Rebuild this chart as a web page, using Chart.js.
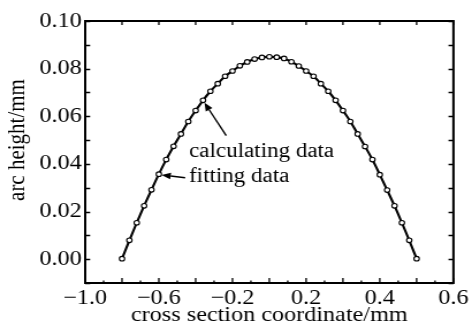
<!DOCTYPE html>
<html>
<head>
<meta charset="utf-8">
<script src="https://cdn.jsdelivr.net/npm/chart.js@4/dist/chart.umd.min.js"></script>
<style>
  html, body { margin: 0; padding: 0; background: #fff; overflow: hidden; }
  /* the original figure is stretched horizontally, so draw narrow and stretch */
  #wrap { width: 410px; height: 329px; transform: scaleX(1.1512); transform-origin: 0 0; }
</style>
</head>
<body>
<div id="wrap"><canvas id="arcChart"></canvas></div>
<script>
// cross section coordinate (mm)
const crossCoords = [
  -0.80, -0.76, -0.72, -0.68, -0.64, -0.60, -0.56, -0.52, -0.48, -0.44,
  -0.40, -0.36, -0.32, -0.28, -0.24, -0.20, -0.16, -0.12, -0.08, -0.04,
   0.00,  0.04,  0.08,  0.12,  0.16,  0.20,  0.24,  0.28,  0.32,  0.36,
   0.40,  0.44,  0.48,  0.52,  0.56,  0.60,  0.64,  0.68,  0.72,  0.76,
   0.80
];
// arc height (mm)
const arcHeights = [
  0.0002, 0.0079, 0.0153, 0.0224, 0.0291, 0.0357, 0.0418, 0.0474, 0.0526, 0.0578,
  0.0624, 0.0667, 0.0705, 0.0737, 0.0768, 0.0790, 0.0812, 0.0828, 0.0840, 0.0847,
  0.0850, 0.0848, 0.0843, 0.0829, 0.0811, 0.0790, 0.0768, 0.0737, 0.0705, 0.0667,
  0.0624, 0.0578, 0.0526, 0.0473, 0.0418, 0.0355, 0.0290, 0.0224, 0.0153, 0.0079,
  0.0002
];
// tick labels as printed on the original figure
const xTickLabels = ['\u22121.0', '\u22120.6', '\u22120.2', '0.2', '0.4', '0.6'];
const yTickValues = [0.00, 0.02, 0.04, 0.06, 0.08, 0.10];

const FONT = '"Liberation Serif", "Times New Roman", serif';

const points = crossCoords.map((x, i) => ({ x: x, y: arcHeights[i] }));

// frame + inward ticks like the original plot
const frameTicks = {
  id: 'frameTicks',
  afterDraw(chart) {
    const ctx = chart.ctx;
    const a = chart.chartArea;
    const xs = chart.scales.x, ys = chart.scales.y;
    ctx.save();
    ctx.strokeStyle = '#000';
    ctx.lineWidth = 1.3;
    ctx.beginPath();
    for (let i = 0; i <= 20; i++) {
      const px = xs.getPixelForValue(-1 + i * 0.1);
      const major = i % 2 === 0;
      const len = major ? 5 : 2.5;
      ctx.moveTo(px, a.bottom);
      ctx.lineTo(px, a.bottom - len);
      if (major) {
        ctx.moveTo(px, a.top);
        ctx.lineTo(px, a.top + 4);
      }
    }
    for (let j = 0; j <= 11; j++) {
      const py = Math.round(ys.getPixelForValue(-0.01 + j * 0.01)) + 0.5;
      ctx.moveTo(a.left, py);
      ctx.lineTo(a.left + 4.3, py);
      ctx.moveTo(a.right, py);
      ctx.lineTo(a.right - 4.3, py);
    }
    ctx.stroke();
    ctx.lineWidth = 2;
    ctx.strokeRect(a.left, a.top, a.right - a.left, a.bottom - a.top);
    ctx.restore();
  }
};

function arrow(ctx, x0, y0, x1, y1) {
  const ang = Math.atan2(y1 - y0, x1 - x0);
  const hl = 8, hw = 3.3;
  const bx = x1 - hl * Math.cos(ang), by = y1 - hl * Math.sin(ang);
  ctx.beginPath();
  ctx.moveTo(x0, y0);
  ctx.lineTo(bx, by);
  ctx.stroke();
  ctx.beginPath();
  ctx.moveTo(x1, y1);
  ctx.lineTo(bx + hw * Math.sin(ang), by - hw * Math.cos(ang));
  ctx.lineTo(bx - hw * Math.sin(ang), by + hw * Math.cos(ang));
  ctx.closePath();
  ctx.fill();
}

// the two callouts and the y title
const callouts = {
  id: 'callouts',
  afterDatasetsDraw(chart) {
    const ctx = chart.ctx;
    const xs = chart.scales.x, ys = chart.scales.y;
    ctx.save();
    ctx.fillStyle = '#000';
    ctx.strokeStyle = '#000';
    ctx.lineWidth = 1.4;
    ctx.font = '20px ' + FONT;
    ctx.textBaseline = 'alphabetic';

    const p1 = chart.getDatasetMeta(0).data[11];
    arrow(ctx, xs.getPixelForValue(-0.234), ys.getPixelForValue(0.0519), p1.x + 1.3, p1.y + 2.5);
    ctx.fillText('calculating data', xs.getPixelForValue(-0.436), ys.getPixelForValue(0.043));

    const p2 = chart.getDatasetMeta(0).data[5];
    arrow(ctx, xs.getPixelForValue(-0.457), ys.getPixelForValue(0.0342), p2.x + 2.3, p2.y + 0.8);
    ctx.fillText('fitting data', xs.getPixelForValue(-0.436), ys.getPixelForValue(0.0325));

    ctx.font = '21px ' + FONT;
    ctx.textAlign = 'center';
    ctx.textBaseline = 'middle';
    ctx.translate(15, 140);
    ctx.rotate(-Math.PI / 2);
    ctx.fillText('arc height/mm', 0, 0);
    ctx.restore();
  }
};

new Chart(document.getElementById('arcChart'), {
  type: 'line',
  data: {
    datasets: [{
      data: points,
      borderColor: '#000',
      borderWidth: 2.1,
      backgroundColor: '#fff',
      pointRadius: 2.3,
      pointBorderWidth: 1.1,
      pointBorderColor: '#000',
      pointBackgroundColor: '#fff',
      cubicInterpolationMode: 'monotone'
    }]
  },
  options: {
    responsive: true,
    maintainAspectRatio: false,
    animation: false,
    layout: { padding: { top: 21, right: 10, left: 0, bottom: 0 } },
    plugins: { legend: { display: false }, tooltip: { enabled: false } },
    scales: {
      x: {
        type: 'linear',
        min: -1,
        max: 1,
        grid: { display: false, drawTicks: false },
        border: { display: false },
        ticks: {
          stepSize: 0.4,
          padding: 3,
          maxRotation: 0,
          autoSkip: false,
          color: '#000',
          font: { family: FONT, size: 21 },
          callback: (v, i) => xTickLabels[i]
        },
        title: {
          display: true,
          text: 'cross section coordinate/mm',
          color: '#000',
          font: { family: FONT, size: 21 },
          padding: { top: 0, bottom: 1 }
        },
        afterFit(s) { s.height = 46; }
      },
      y: {
        min: -0.01,
        max: 0.10,
        grid: { display: false, drawTicks: false },
        border: { display: false },
        afterBuildTicks(s) { s.ticks = yTickValues.map(v => ({ value: v })); },
        ticks: {
          padding: 3,
          color: '#000',
          font: { family: FONT, size: 21 },
          callback: v => v.toFixed(2)
        },
        afterFit(s) { s.width = 74; }
      }
    }
  },
  plugins: [frameTicks, callouts]
});
</script>
</body>
</html>
